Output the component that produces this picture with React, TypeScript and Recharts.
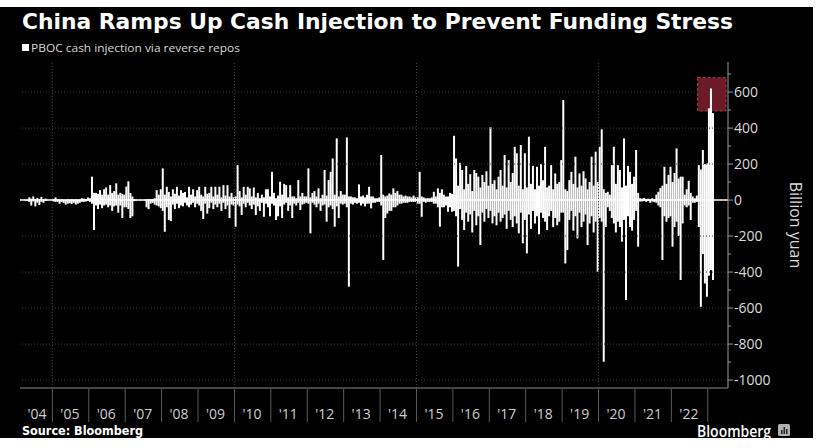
import React from 'react';
import { BarChart, Bar, XAxis, YAxis, ReferenceLine, ReferenceArea } from 'recharts';

// PBOC net cash injection via reverse repos, billion yuan.
// In ~2px columns: upper extent (up) and lower extent (dn) of each column.
const up2004 = [2, 0, 3, 2, 15, 8, 20, 5, 12, 6, 18, 5, 8, 3, 0, 2];
const dn2004 = [0, 0, -2, -5, -10, -30, -8, -35, -15, -28, -10, -15, -5, -2, 0, 0];
const up2005 = [5, 15, 5, 3, 5, 3, 2, 5, 3, 5, 3, 5, 3, 5, 10, 8, 5, 15];
const dn2005 = [-8, -10, -10, -20, -10, -15, -25, -20, -18, -22, -15, -25, -20, -15, -10, -10, -8, -5];
const up2006 = [10, 130, 40, 40, 35, 55, 30, 60, 70, 30, 83, 40, 50, 93, 30, 40, 35, 30];
const dn2006 = [-10, -20, -167, -30, -50, -25, -45, -30, -25, -40, -30, -60, -35, -30, -70, -30, -100, -40];
const up2007 = [75, 105, 40, 20, 5, 3, 0, 2, 0, 3, 5, 5, 5, 5, 10, 55, 30, 60];
const dn2007 = [-40, -50, -100, -90, -5, -3, 0, -2, 0, -3, -40, -50, -20, -15, -25, -30, -35, -45];
const up2008 = [176, 30, 74, 45, 20, 60, 35, 74, 25, 55, 40, 45, 15, 74, 30, 60, 20, 55];
const dn2008 = [-60, -176, -40, -111, -117, -25, -50, -20, -45, -30, -35, -15, -30, -40, -25, -15, -40, -20];
const up2009 = [74, 30, 20, 74, 35, 40, 74, 20, 74, 30, 74, 15, 83, 25, 83, 20, 40, 15];
const dn2009 = [-30, -60, -105, -20, -75, -45, -15, -50, -25, -40, -20, -60, -15, -50, -30, -100, -25, -30];
const up2010 = [20, 194, 50, 15, 74, 30, 74, 65, 20, 70, 15, 40, 10, 30, 15, 60, 60, 20];
const dn2010 = [-148, -25, -35, -83, -20, -40, -15, -30, -50, -25, -83, -35, -60, -15, -93, -20, -40, -90];
const up2011 = [157, 40, 10, 25, 102, 30, 90, 83, 15, 83, 20, 20, 10, 111, 20, 40, 20, 20];
const dn2011 = [-20, -30, -111, -90, -35, -100, -25, -15, -60, -30, -100, -20, -30, -15, -55, -25, -20, -15];
const up2012 = [176, 15, 40, 50, 20, 65, 10, 30, 167, 25, 111, 157, 231, 30, 343, 20, 50, 30];
const dn2012 = [-20, -185, -15, -25, -40, -20, -60, -30, -25, -120, -40, -30, -50, -148, -35, -100, -20, -25];
const up2013 = [30, 348, 20, 20, 15, 15, 10, 87, 20, 25, 15, 30, 74, 20, 20, 10, 10, 15];
const dn2013 = [-20, -40, -481, -20, -25, -15, -20, -15, -30, -20, -35, -20, -20, -46, -15, -15, -10, -10];
const up2014 = [250, 30, 20, 25, 37, 30, 65, 40, 50, 30, 30, 20, 25, 20, 20, 15, 25, 15];
const dn2014 = [-30, -333, -100, -75, -60, -60, -40, -40, -30, -20, -20, -15, -15, -15, -10, -10, -10, -10];
const up2015 = [15, 157, 20, 15, 10, 10, 10, 15, 46, 20, 65, 40, 60, 30, 20, 20, 40, 35];
const dn2015 = [-20, -20, -93, -10, -15, -10, -10, -10, -20, -20, -40, -148, -40, -40, -30, -65, -40, -65];
const up2016 = [357, 231, 80, 207, 167, 60, 189, 90, 144, 50, 167, 150, 130, 70, 140, 100, 160, 80];
const dn2016 = [-60, -90, -370, -50, -110, -167, -70, -120, -80, -180, -60, -140, -90, -250, -70, -120, -50, -100];
const up2017 = [405, 90, 110, 60, 130, 167, 80, 250, 70, 222, 100, 150, 296, 260, 80, 306, 60, 260];
const dn2017 = [-60, -130, -90, -140, -70, -120, -100, -80, -160, -60, -110, -150, -90, -130, -185, -70, -240, -110];
const up2018 = [70, 352, 90, 190, 60, 185, 80, 200, 110, 296, 70, 80, 194, 60, 148, 90, 100, 222];
const dn2018 = [-296, -80, -160, -60, -130, -90, -190, -70, -100, -120, -167, -90, -60, -150, -100, -140, -120, -70];
const up2019 = [556, 60, 50, 111, 157, 90, 241, 70, 148, 80, 160, 120, 60, 100, 241, 80, 269, 100];
const dn2019 = [-70, -352, -278, -110, -60, -170, -90, -213, -70, -150, -120, -80, -250, -130, -90, -180, -120, -398];
const up2020 = [296, 393, 60, 40, 46, 30, 194, 296, 90, 194, 167, 70, 343, 80, 190, 157, 90, 130];
const dn2020 = [-100, -120, -898, -150, -40, -60, -100, -130, -180, -120, -150, -231, -110, -556, -90, -150, -170, -110];
const up2021 = [278, 40, 10, 8, 12, 5, 8, 5, 10, 5, 30, 46, 67, 80, 185, 90, 140, 185];
const dn2021 = [-60, -259, -8, -8, -5, -10, -5, -15, -8, -12, -15, -30, -40, -333, -90, -120, -100, -90];
const up2022 = [100, 150, 287, 120, 130, 130, 30, 60, 107, 40, 20, 10, 25, 194, 170, 278, 200, 204];
const dn2022 = [-259, -150, -120, -200, -444, -130, -30, -40, -30, -111, -15, -15, -10, -150, -593, -300, -463, -537];
const up2023 = [510, 620, 483, null, null, null, null, null, null, null];
const dn2023 = [-420, -389, -444, null, null, null, null, null, null, null];

const yearSeries: [number, (number | null)[], (number | null)[]][] = [
  [2004, up2004, dn2004], [2005, up2005, dn2005], [2006, up2006, dn2006], [2007, up2007, dn2007],
  [2008, up2008, dn2008], [2009, up2009, dn2009], [2010, up2010, dn2010], [2011, up2011, dn2011],
  [2012, up2012, dn2012], [2013, up2013, dn2013], [2014, up2014, dn2014], [2015, up2015, dn2015],
  [2016, up2016, dn2016], [2017, up2017, dn2017], [2018, up2018, dn2018], [2019, up2019, dn2019],
  [2020, up2020, dn2020], [2021, up2021, dn2021], [2022, up2022, dn2022], [2023, up2023, dn2023],
];

const yTicks = [-1000, -900, -800, -700, -600, -500, -400, -300, -200, -100, 0, 100, 200, 300, 400, 500, 600, 700];
const gridValues = [-1000, -800, -600, -400, -200, 200, 400, 600];
const gridYears = [2005, 2010, 2015, 2020];

const data: { k: string; up: number | null; dn: number | null }[] = [];
yearSeries.forEach(([yr, ups, dns]) => ups.forEach((u, j) => data.push({ k: `${yr}-${j}`, up: u, dn: dns[j] })));
const yearTicks = yearSeries.map(([yr]) => `${yr}-0`);

const PLOT_LEFT = 20;
const PLOT_RIGHT = 728;
const PLOT_BOTTOM = 388;
const BW = (PLOT_RIGHT - PLOT_LEFT) / data.length;

const XTick = (props: any) => {
  const { x, payload } = props;
  const yr = parseInt(String(payload.value).split('-')[0], 10);
  const sep = x - BW / 2;
  const lx = yr === 2004 ? 37 : sep + 17.5;
  const label = "'" + String(yr).slice(2);
  return (
    <g>
      {yr !== 2004 && <line x1={sep} x2={sep} y1={PLOT_BOTTOM + 1} y2={422} stroke="#5a5a5a" strokeWidth={1} />}
      {yr !== 2023 && (
        <text x={lx} y={419} textAnchor="middle" fill="#cfcfcf" fontSize={14} fontFamily="Open Sans">
          {label}
        </text>
      )}
    </g>
  );
};

const YTick = (props: any) => {
  const { y, payload } = props;
  const v = payload.value;
  const major = v % 200 === 0;
  return (
    <g>
      <line x1={PLOT_RIGHT} x2={major ? PLOT_RIGHT + 5 : PLOT_RIGHT + 3} y1={y} y2={y} stroke="#9a9a9a" />
      {major && (
        <text x={PLOT_RIGHT + 6} y={y} dy="0.36em" fill="#dcdcdc" fontSize={14} fontFamily="Open Sans">
          {v}
        </text>
      )}
    </g>
  );
};

export default function App() {
  return (
    <div style={{ position: 'absolute', left: 0, top: 0, width: 825, height: 448, background: '#fff', overflow: 'hidden' }}>
      <div style={{ position: 'absolute', left: 0, top: 7, width: 813, height: 431, background: '#000' }} />
      <div style={{ position: 'absolute', left: 0, top: 0 }}>
        <BarChart
          width={825}
          height={448}
          data={data}
          margin={{ top: 62, right: 37, bottom: 30, left: 20 }}
          barCategoryGap="8%"
          barGap={0}
          stackOffset="sign"
        >
          <XAxis
            dataKey="k"
            ticks={yearTicks}
            interval={0}
            tick={(p: any) => <XTick {...p} />}
            tickLine={false}
            axisLine={{ stroke: '#8a8a8a' }}
            height={30}
          />
          <YAxis
            orientation="right"
            type="number"
            width={60}
            domain={[-1044, 767]}
            allowDataOverflow
            ticks={yTicks}
            interval={0}
            tick={(p: any) => <YTick {...p} />}
            tickLine={false}
            axisLine={{ stroke: '#9a9a9a' }}
          />
          {gridValues.map((g) => (
            <ReferenceLine key={'h' + g} y={g} stroke="#3d3d3d" strokeDasharray="1 2" />
          ))}
          {gridYears.map((yr) => (
            <ReferenceLine key={'v' + yr} x={`${yr}-0`} position="start" stroke="#3d3d3d" strokeDasharray="1 2" />
          ))}
          <ReferenceArea
            x1="2022-13"
            x2="2023-8"
            y1={495}
            y2={680}
            fill="#6b1a26"
            fillOpacity={1}
            stroke="#a8414f"
            strokeDasharray="3 2"
          />
          <Bar dataKey="up" stackId="a" fill="#ffffff" isAnimationActive={false} />
          <Bar dataKey="dn" stackId="a" fill="#ffffff" isAnimationActive={false} />
          <ReferenceLine y={0} stroke="#ffffff" strokeWidth={1.5} />
        </BarChart>
      </div>
      <svg width={825} height={448} style={{ position: 'absolute', left: 0, top: 0, pointerEvents: 'none' }}>
        <text x={22} y={29} fill="#ffffff" fontSize={21} fontWeight="bold" fontFamily="DejaVu Sans" textLength={711} lengthAdjust="spacingAndGlyphs">
          China Ramps Up Cash Injection to Prevent Funding Stress
        </text>
        <rect x={22} y={44} width={7} height={7} fill="#ffffff" />
        <text x={31} y={52} fill="#d8d8d8" fontSize={11.5} fontFamily="Open Sans" textLength={209} lengthAdjust="spacingAndGlyphs">
          PBOC cash injection via reverse repos
        </text>
        <text x={785} y={225} fill="#dcdcdc" fontSize={16} fontFamily="Open Sans" textAnchor="middle" transform="rotate(90 785 225)" dy="-0.3em">
          Billion yuan
        </text>
        <text x={22} y={435} fill="#ffffff" fontSize={11.5} fontWeight="bold" fontFamily="DejaVu Sans" textLength={121} lengthAdjust="spacingAndGlyphs">
          Source: Bloomberg
        </text>
        <text x={697} y={437} fill="#ffffff" fontSize={16} fontWeight={600} fontFamily="Open Sans" textLength={74} lengthAdjust="spacingAndGlyphs">
          Bloomberg
        </text>
        <rect x={778} y={424} width={12} height={12} rx={1.5} fill="#b0b0b0" />
        <rect x={781} y={430} width={1.5} height={4} fill="#222" />
        <rect x={783.5} y={427} width={1.5} height={7} fill="#222" />
        <rect x={786} y={429} width={1.5} height={5} fill="#222" />
      </svg>
    </div>
  );
}
